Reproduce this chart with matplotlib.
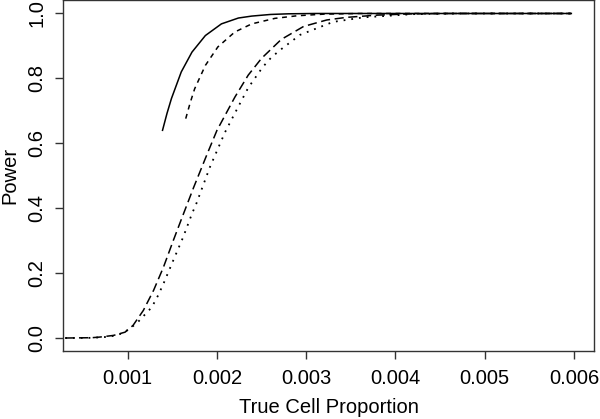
import matplotlib
matplotlib.use("Agg")
import matplotlib.pyplot as plt

plt.rcParams['font.family'] = ['Liberation Sans', 'DejaVu Sans']

# Curve 1 (solid)
x_solid = [0.00139, 0.00144, 0.00149, 0.00160, 0.00172, 0.00187, 0.00205, 0.00224,
           0.00239, 0.00260, 0.00280, 0.00310, 0.00597]
y_solid = [0.64, 0.692, 0.738, 0.82, 0.881, 0.932, 0.968, 0.986,
           0.992, 0.997, 0.999, 1.0, 1.0]

# Curve 2 (short dashes)
x_dash = [0.00165, 0.00170, 0.00175, 0.00187, 0.00201, 0.00220, 0.00239, 0.00265,
          0.00290, 0.00320, 0.00360, 0.00597]
y_dash = [0.676, 0.725, 0.768, 0.84, 0.897, 0.943, 0.968, 0.985,
          0.993, 0.998, 1.0, 1.0]

# Curve 3 (long dashes)
x_long = [0.00030, 0.00060, 0.00069, 0.00084, 0.00097, 0.00106, 0.001175, 0.00129,
          0.00140, 0.00151, 0.00160, 0.00174, 0.00189, 0.00200, 0.00220, 0.00235,
          0.00250, 0.00272, 0.00297, 0.00323, 0.00345, 0.00380, 0.00420, 0.00460, 0.00597]
y_long = [0.0, 0.001, 0.003, 0.008, 0.018, 0.039, 0.085, 0.147,
          0.218, 0.30, 0.365, 0.465, 0.567, 0.64, 0.742, 0.81,
          0.862, 0.92, 0.96, 0.98, 0.988, 0.995, 0.999, 1.0, 1.0]

# Curve 4 (dotted)
x_dot = [0.00030, 0.00060, 0.00080, 0.00095, 0.00110, 0.00127, 0.00134, 0.00140,
         0.00151, 0.00162, 0.00172, 0.00177, 0.00192, 0.00209, 0.00222, 0.00235,
         0.00251, 0.00261, 0.00272, 0.00293, 0.00330, 0.00364, 0.00420, 0.00470, 0.00597]
y_dot = [0.0, 0.0005, 0.004, 0.015, 0.045, 0.095, 0.131, 0.167,
         0.239, 0.31, 0.383, 0.415, 0.526, 0.634, 0.703, 0.771,
         0.834, 0.865, 0.89, 0.934, 0.974, 0.988, 0.998, 1.0, 1.0]

x_ticks = [0.001, 0.002, 0.003, 0.004, 0.005, 0.006]
x_ticklabels = ["0.001", "0.002", "0.003", "0.004", "0.005", "0.006"]
y_ticks = [0.0, 0.2, 0.4, 0.6, 0.8, 1.0]
y_ticklabels = ["0.0", "0.2", "0.4", "0.6", "0.8", "1.0"]

fig = plt.figure(figsize=(6.0, 4.19), dpi=100)
ax = fig.add_axes([63/600, (419-351)/419, (594-63)/600, (351-0.5)/419])

lw = 1.1
ax.plot(x_solid, y_solid, color='black', lw=lw, linestyle='-')
ax.plot(x_dash, y_dash, color='black', lw=lw, linestyle=(0, (3.2, 3.0)))
ax.plot(x_long, y_long, color='black', lw=lw, linestyle=(0, (6.0, 3.0)))
ax.plot(x_dot, y_dot, color='black', lw=1.3, linestyle=(0, (1.0, 3.3)))

ax.set_xlim(0.000275, 0.006224)
ax.set_ylim(-0.04, 1.04)

ax.set_xticks(x_ticks)
ax.set_xticklabels(x_ticklabels)
ax.set_yticks(y_ticks)
ax.set_yticklabels(y_ticklabels, rotation=90, va='center')

ax.tick_params(axis='both', direction='out', length=5.8, width=1.0, colors='#333333',
               labelsize=14.5, labelcolor='black')
ax.tick_params(axis='x', pad=7)
ax.tick_params(axis='y', pad=6)

for s in ax.spines.values():
    s.set_color('#333333')
    s.set_linewidth(1.0)

ax.set_xlabel("True Cell Proportion", fontsize=14.5, labelpad=7)
ax.set_ylabel("Power", fontsize=14.5, labelpad=6)

fig.savefig("out.png", dpi=100)
